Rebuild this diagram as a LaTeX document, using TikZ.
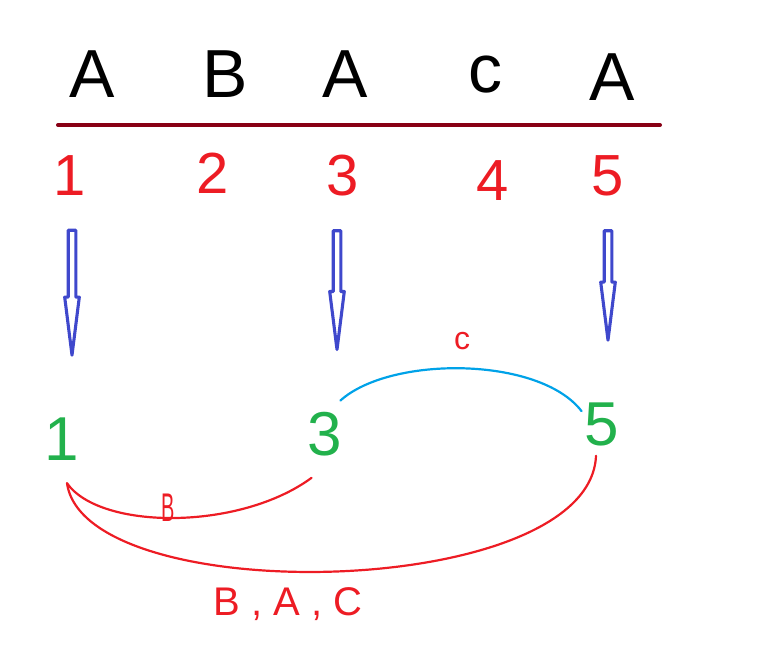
\documentclass[tikz,border=0pt]{standalone}
\usepackage{fontspec}
\setmainfont{Liberation Sans}
\usetikzlibrary{calc}
\definecolor{paintred}{RGB}{237,28,36}
\definecolor{paintmaroon}{RGB}{136,0,21}
\definecolor{paintblue}{RGB}{63,72,204}
\definecolor{paintgreen}{RGB}{34,177,76}
\definecolor{paintsky}{RGB}{0,162,232}
\tikzset{
  letter/.style={inner sep=0pt, anchor=base, font=\fontsize{68}{68}\selectfont},
  idx/.style={inner sep=0pt, anchor=base, text=paintred, font=\fontsize{58}{58}\selectfont},
  posnum/.style={inner sep=0pt, anchor=base, text=paintgreen, font=\fontsize{62}{62}\selectfont},
  edgelabel/.style={inner sep=0pt, anchor=base, text=paintred},
  sepline/.style={draw=paintmaroon, line width=4pt, line cap=round},
  hollow/.style={draw=paintblue, line width=3.1pt, line join=round,
    to path={let \p1=($(\tikztostart.south)+(#1,35)$),
                 \p2=($(\tikztostart.south |- \tikztotarget.north)+(#1,-62)$) in
      (\x1-3.8pt,\y1) -- (\x1-3.8pt,\y2+58pt) -- (\x1-7.3pt,\y2+58pt) -- (\x2,\y2)
      -- (\x1+7.3pt,\y2+58pt) -- (\x1+3.8pt,\y2+58pt) -- (\x1+3.8pt,\y1) -- cycle}},
  hollow/.default=0,
  link/.style={draw=paintred, line width=2.2pt, line cap=round},
  arcline/.style={draw=paintsky, line width=2.2pt, line cap=round}
}

\begin{document}
\begin{tikzpicture}[x=1pt, y=-1pt]
  \useasboundingbox (0,0) rectangle (777,656);

  % String on top.
  \node[letter] (s1) at (92,97) {A};
  \node[letter] (s2) at (225,97) {B};
  \node[letter] (s3) at (345,97) {A};
  \node[letter] (s4) at (485,92) {c};
  \node[letter] (s5) at (612,100) {A};

  \coordinate (sep-l) at (58,125);
  \coordinate (sep-r) at (660,125);
  \draw[sepline] (sep-l) -- (sep-r);

  % Positions.
  \node[idx] (n1) at (70,195) {1};
  \node[idx] (n2) at (213,193) {2};
  \node[idx] (n3) at (343,195) {3};
  \node[idx] (n4) at (493,200) {4};
  \node[idx] (n5) at (608,195) {5};

  % Positions of A taken out.
  \node[posnum] (g1) at (62,460) {1};
  \node[posnum] (g3) at (325,455) {3};
  \node[posnum] (g5) at (602,445) {5};

  \draw[hollow=2] (n1) to (g1);
  \draw[hollow=-6] (n3) to (g3);
  \draw[hollow] (n5) to (g5);

  % Letters lying between the positions.
  \draw[arcline] ($(g3.north east)+(-2,-11)$) .. controls +(50,-45) and +(-42,-55) .. ($(g5.north west)+(-3,9)$);
  \draw[link] ($(g1.south)+(5,23)$) .. controls +(33,47) and +(-72,53) .. ($(g3.south west)+(4,22)$);
  \draw[link] ($(g1.south)+(5,23)$) .. controls +(18,127) and +(-6,145) .. ($(g5.south)+(-6,10)$);

  \node[edgelabel, font=\fontsize{32}{32}\selectfont] (lc) at (462,349) {c};
  \node[edgelabel, font=\fontsize{40}{40}\selectfont] (lb) at (168,521) {\scalebox{0.5}[1]{B}};
  \node[edgelabel, font=\fontsize{40}{40}\selectfont] (lbac) at (288,615) {B , A , C};
\end{tikzpicture}
\end{document}
